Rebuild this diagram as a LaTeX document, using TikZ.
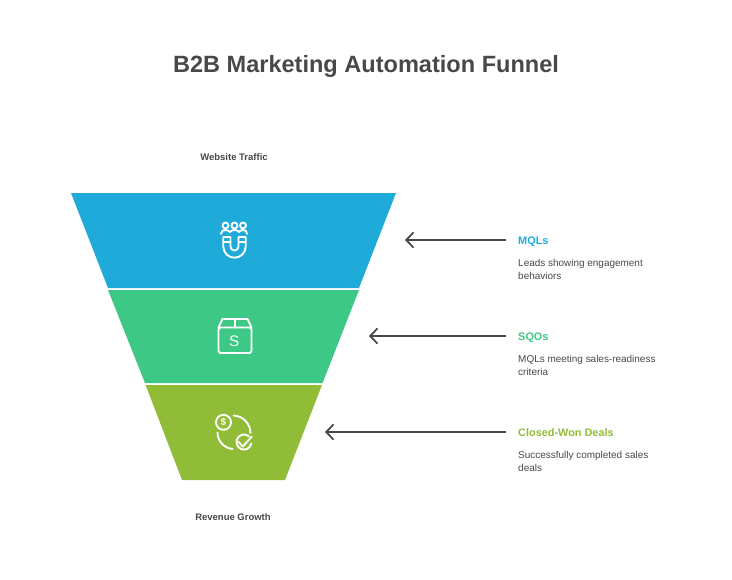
\documentclass[tikz,border=0pt]{standalone}
\usepackage{fontspec}
\setmainfont{Liberation Sans}
\usetikzlibrary{arrows.meta,positioning}
\definecolor{mqlblue}{HTML}{1EABDA}
\definecolor{sqogreen}{HTML}{3DC885}
\definecolor{wonolive}{HTML}{91BC37}
\definecolor{inkgrey}{HTML}{484848}
\tikzset{>={Straight Barb[length=2.2mm,width=4.6mm,line width=1.5pt]}}
\tikzstyle{pointer}=[<-,draw=inkgrey,line width=1.4pt]
\tikzstyle{icon}=[draw=white,line width=1.6pt,line cap=round,line join=round]
\tikzstyle{caption}=[font=\bfseries\fontsize{8.1}{10}\selectfont,text=inkgrey]
\tikzstyle{heading}=[anchor=base west,inner sep=0pt,font=\bfseries\fontsize{9.3}{12}\selectfont]
\tikzstyle{detail}=[anchor=north west,inner sep=0pt,align=left,text=inkgrey,font=\fontsize{8.5}{10.8}\selectfont]

\begin{document}
\begin{tikzpicture}[x=0.03cm,y=-0.03cm]
	\useasboundingbox (0, 0) rectangle (732, 579);
	\node[font=\bfseries\fontsize{20.1}{25}\selectfont, text=inkgrey] (title) at (366, 66) {B2B Marketing Automation Funnel};
	\node[caption] (top) at (234, 157) {Website Traffic};
	\node[caption] (bottom) at (233, 517) {Revenue Growth};

	% funnel
	\fill[mqlblue] (71, 193) -- (396, 193) -- (359, 288) -- (108, 288) -- cycle;
	\fill[sqogreen] (108, 290) -- (359, 290) -- (322.6, 383) -- (145, 383) -- cycle;
	\fill[wonolive] (145.6, 385) -- (322, 385) -- (285, 480) -- (182, 480) -- cycle;

	% labels
	\node[heading, text=mqlblue] (mql) at (518, 244) {MQLs};
	\node[detail] (mqltext) at (518, 259.5) {Leads showing engagement\\behaviors};
	\node[heading, text=sqogreen] (sqo) at (518, 340) {SQOs};
	\node[detail] (sqotext) at (518, 355.5) {MQLs meeting sales-readiness\\criteria};
	\node[heading, text=wonolive] (won) at (518, 436) {Closed-Won Deals};
	\node[detail] (wontext) at (518, 451.5) {Successfully completed sales\\deals};

	% arrows
	\coordinate (mqltip) at (405, 240);
	\coordinate (mqlend) at (506, 240);
	\coordinate (sqotip) at (369, 336);
	\coordinate (sqoend) at (506, 336);
	\coordinate (wontip) at (325, 432);
	\coordinate (wonend) at (506, 432);
	\draw[pointer] (mqltip) -- (mqlend);
	\draw[pointer] (sqotip) -- (sqoend);
	\draw[pointer] (wontip) -- (wonend);

	% magnet icon
	\foreach \x in {225.5, 234.5, 243} {
		\draw[icon] (\x, 225.5) circle (3);
	}
	\draw[icon] (221, 234) .. controls (221, 231) and (223, 230) .. (225.5, 230) .. controls (227.5, 230) and (229, 231) .. (230, 232);
	\draw[icon] (230, 232) .. controls (231, 230.5) and (232.5, 230) .. (234.5, 230) .. controls (236.5, 230) and (238, 230.5) .. (239, 232);
	\draw[icon] (239, 232) .. controls (240, 231) and (241, 230) .. (243, 230) .. controls (245.5, 230) and (247, 231) .. (247, 234);
	\draw[icon] (223.3, 237) -- (230.5, 237) -- (230.5, 246.5) arc[start angle=180, end angle=0, radius=4] -- (238.5, 237) -- (245.7, 237) -- (245.7, 246.5) arc[start angle=0, end angle=180, radius=11.2] -- cycle;
	\draw[icon] (223.3, 242) -- (230.5, 242);
	\draw[icon] (238.5, 242) -- (245.7, 242);

	% box icon
	\draw[icon] (218.5, 327.5) -- (222.5, 319) -- (247.5, 319) -- (251.5, 327.5);
	\draw[icon, rounded corners=1.5] (218.5, 327.5) rectangle (251.5, 353);
	\draw[icon] (234.7, 319) -- (234.7, 327.5);
	\node[text=white, inner sep=0pt, font=\fontsize{13}{15}\selectfont] (dollar) at (234.3, 341) {S};

	% deal icon
	\draw[icon] (223.5, 422.3) circle (7.5);
	\node[text=white, inner sep=0pt, font=\bfseries\fontsize{8.5}{10}\selectfont] (coin) at (223.5, 422.3) {\$};
	\draw[icon] (233.5, 415.5) arc[start angle=-88, end angle=0, radius=17.5];
	\draw[icon] (217.5, 432.5) arc[start angle=180, end angle=95, radius=16.5];
	\draw[icon] (248.8, 436.3) arc[start angle=-50, end angle=-350, radius=7.5];
	\draw[icon] (238.5, 441.7) -- (242.7, 446.5) -- (251.7, 436.7);
\end{tikzpicture}
\end{document}
